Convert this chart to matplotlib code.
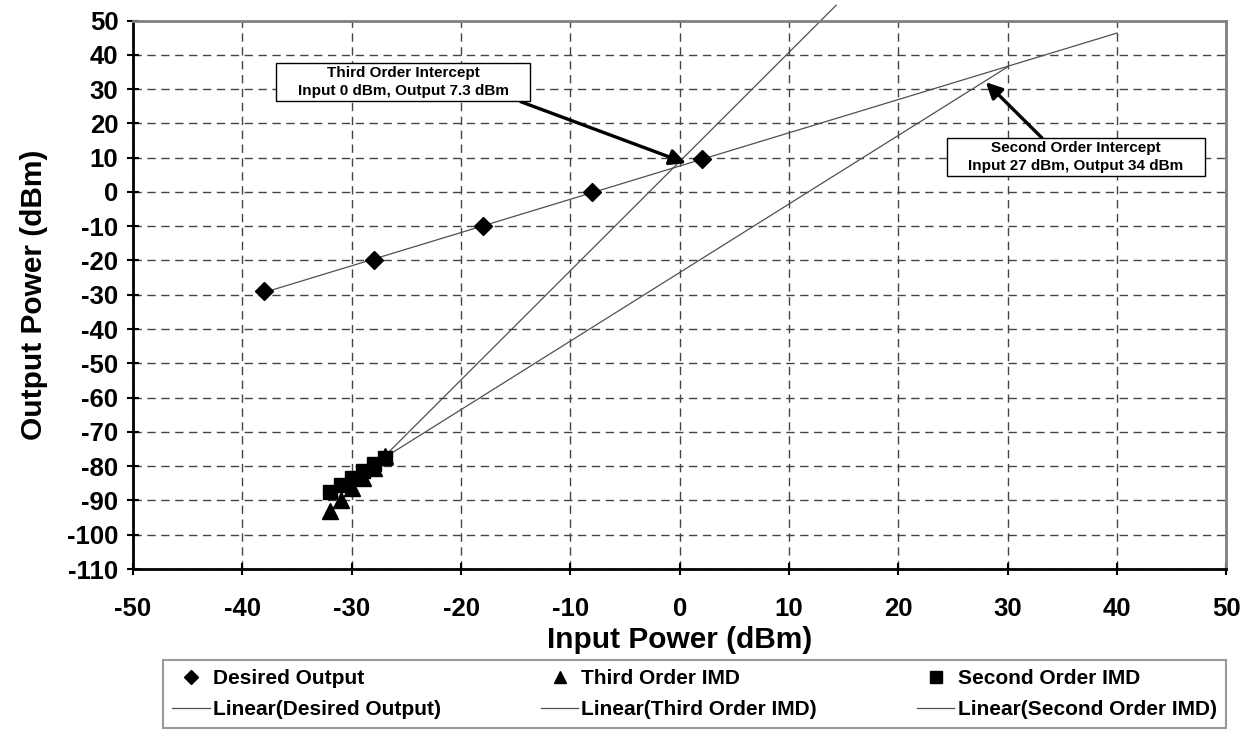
import numpy as np
import matplotlib.pyplot as plt
from matplotlib.path import Path

desired_x = [-38, -28, -18, -8, 2]
desired_y = [-29, -20, -10, 0, 9.5]
third_x = [-32, -31, -30, -29, -28, -27]
third_y = [-93, -90, -86.5, -83.5, -80.5, -77]
second_x = [-32, -31, -30, -29, -28, -27]
second_y = [-87.5, -85.5, -83.5, -81.5, -79.5, -77.5]

# trendline forward forecast (dBm) beyond last point
fwd_desired = 38
fwd_third = 41.3
fwd_second = 57

plt.rcParams['font.family'] = ['Liberation Sans', 'DejaVu Sans']
plt.rcParams['font.weight'] = 'bold'
plt.rcParams['axes.unicode_minus'] = False

fig = plt.figure(figsize=(12.56, 7.36), dpi=100)
ax = fig.add_axes([0.1059, 0.2269, 0.8706, 0.7452])


def trend(xs, ys, fwd):
    k, b = np.polyfit(xs, ys, 1)
    xx = np.array([min(xs), max(xs) + fwd])
    return xx, k * xx + b


def wide_box(x0, y0, width, height, mutation_size):
    # square box with more padding left/right than top/bottom
    px, py = 1.4 * mutation_size, 0.2 * mutation_size
    x0, y0 = x0 - px, y0 - py
    x1, y1 = x0 + width + 2 * px, y0 + height + 2 * py
    return Path([(x0, y0), (x1, y0), (x1, y1), (x0, y1), (x0, y0)], closed=True)


tline = dict(color='#505050', lw=0.9, clip_on=False, zorder=2)
xx, yy = trend(desired_x, desired_y, fwd_desired)
l1, = ax.plot(xx, yy, **tline)
xx, yy = trend(third_x, third_y, fwd_third)
l2, = ax.plot(xx, yy, **tline)
xx, yy = trend(second_x, second_y, fwd_second)
l3, = ax.plot(xx, yy, **tline)

m1, = ax.plot(desired_x, desired_y, 'D', color='black', ms=9, ls='none', zorder=4)
m2, = ax.plot(third_x, third_y, '^', color='black', ms=11, ls='none', zorder=4)
m3, = ax.plot(second_x, second_y, 's', color='black', ms=10, ls='none', zorder=5)

ax.set_xlim(-50, 50)
ax.set_ylim(-110, 50)
ax.set_xticks(np.arange(-50, 51, 10))
ax.set_yticks(np.arange(-110, 51, 10))
ax.grid(True, color='#444444', ls=(0, (6, 4)), lw=1)
ax.set_axisbelow(True)
ax.tick_params(direction='inout', length=9, width=1.5, labelsize=18.5)
ax.tick_params(axis='x', pad=16)
ax.tick_params(axis='y', pad=6)
for lab in ax.get_xticklabels() + ax.get_yticklabels():
    lab.set_fontweight('bold')
for s in ['left', 'bottom']:
    ax.spines[s].set_color('black')
    ax.spines[s].set_linewidth(2)
for s in ['top', 'right']:
    ax.spines[s].set_color('#808080')
    ax.spines[s].set_linewidth(2)

ax.set_xlabel('Input Power (dBm)', fontsize=21.5, fontweight='bold', labelpad=3)
ax.set_ylabel('Output Power (dBm)', fontsize=21.5, fontweight='bold', labelpad=14)

arrow = dict(arrowstyle='-|>', color='black', lw=2.4, mutation_scale=24, shrinkA=0, shrinkB=0)
box = dict(boxstyle=wide_box, fc='white', ec='black', lw=1)
ax.annotate('Third Order Intercept\nInput 0 dBm, Output 7.3 dBm', xy=(0.57, 8.4), xytext=(-25.3, 32),
            ha='center', va='center', fontsize=11, fontweight='bold', bbox=box, linespacing=1.35,
            arrowprops=dict(arrow, relpos=(0.98, 0.08)), zorder=6)
ax.annotate('Second Order Intercept\nInput 27 dBm, Output 34 dBm', xy=(28.0, 32.0), xytext=(36.2, 10.1),
            ha='center', va='center', fontsize=11, fontweight='bold', bbox=box, linespacing=1.35,
            arrowprops=dict(arrow, relpos=(0.36, 1.0)), zorder=6)

handles = [m1, l1, m2, l2, m3, l3]
labels = ['Desired Output', 'Linear(Desired Output)', 'Third Order IMD',
          'Linear(Third Order IMD)', 'Second Order IMD', 'Linear(Second Order IMD)']
leg_left, leg_top, leg_right = 163 / 1256, 1 - 660 / 736, 1226 / 1256
leg = fig.legend(handles, labels, ncol=3, loc='upper left', mode='expand',
                 bbox_to_anchor=(leg_left, leg_top - 0.2, leg_right - leg_left, 0.2),
                 frameon=True, fancybox=False, edgecolor='#808080', borderaxespad=0,
                 prop={'size': 15, 'weight': 'bold'}, handlelength=1.8, handletextpad=0.15,
                 labelspacing=0.55, borderpad=0.45)
leg.get_frame().set_linewidth(1.5)
for h in leg.legend_handles:
    if h.get_marker() == 'D':
        h.set_markersize(7)
    elif h.get_marker() in ('^', 's'):
        h.set_markersize(9)

fig.savefig('out.png', dpi=100)
